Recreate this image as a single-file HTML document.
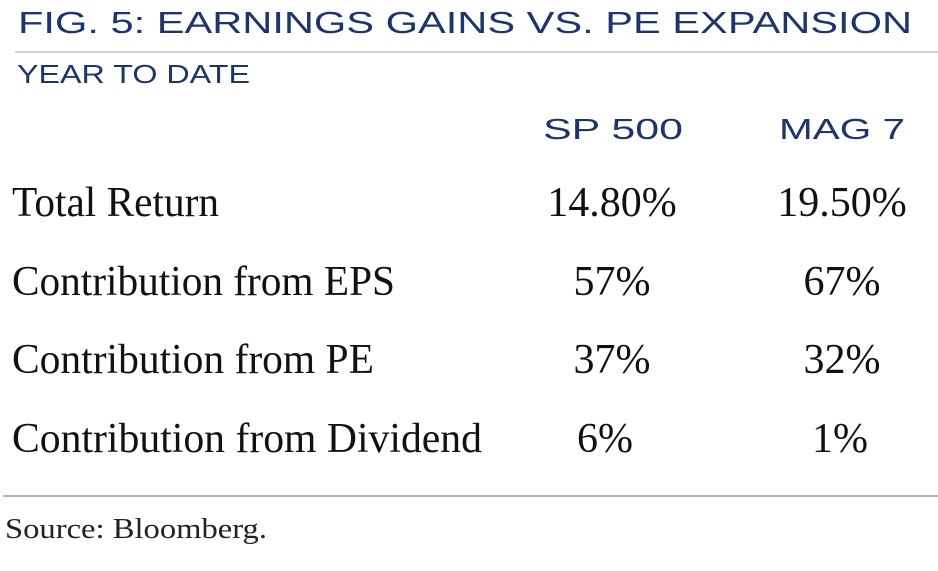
<!DOCTYPE html>
<html><head><style>html,body{margin:0;padding:0;background:#fff;width:938px;height:571px;overflow:hidden}</style></head>
<body>
<svg width="938" height="571" xmlns="http://www.w3.org/2000/svg">
<g font-family="Liberation Sans, sans-serif" fill="#1c3470">
<text x="18" y="33" font-size="31" textLength="894" lengthAdjust="spacingAndGlyphs">FIG. 5: EARNINGS GAINS VS. PE EXPANSION</text>
<text x="17" y="83" font-size="26" textLength="233" lengthAdjust="spacingAndGlyphs">YEAR TO DATE</text>
<text x="543" y="139" font-size="29" textLength="140" lengthAdjust="spacingAndGlyphs">SP 500</text>
<text x="779" y="139" font-size="29" textLength="126" lengthAdjust="spacingAndGlyphs">MAG 7</text>
</g>
<line x1="15" y1="52" x2="938" y2="52" stroke="#d3d3d3" stroke-width="2"/>
<g font-family="Liberation Serif, serif" fill="#111" font-size="42">
<text x="12" y="216" textLength="207" lengthAdjust="spacingAndGlyphs">Total Return</text>
<text x="12" y="295" textLength="383" lengthAdjust="spacingAndGlyphs">Contribution from EPS</text>
<text x="12" y="373" textLength="362" lengthAdjust="spacingAndGlyphs">Contribution from PE</text>
<text x="12" y="452" textLength="470" lengthAdjust="spacingAndGlyphs">Contribution from Dividend</text>
<g text-anchor="middle">
<text x="612" y="216">14.80%</text>
<text x="842" y="216">19.50%</text>
<text x="612" y="295">57%</text>
<text x="842" y="295">67%</text>
<text x="612" y="373">37%</text>
<text x="842" y="373">32%</text>
<text x="605" y="452">6%</text>
<text x="840" y="452">1%</text>
</g>
</g>
<line x1="3" y1="496" x2="938" y2="496" stroke="#8f9cc0" stroke-width="1.5"/>
<text x="5" y="538" font-family="Liberation Serif, serif" font-size="28" fill="#222" textLength="262" lengthAdjust="spacingAndGlyphs">Source: Bloomberg.</text>
</svg>
</body></html>
